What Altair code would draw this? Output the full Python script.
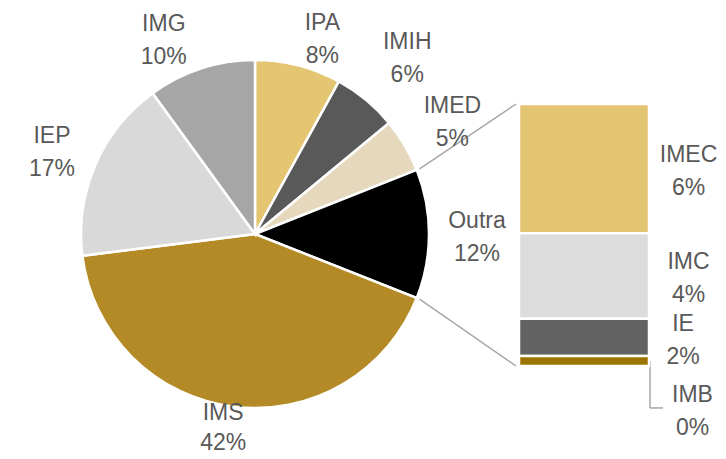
import math
import altair as alt
import pandas as pd

# ---- data ----
pie_names = ["IPA", "IMIH", "IMED", "Outra", "IMS", "IEP", "IMG"]
pie_values = [8, 6, 5, 12, 42, 17, 10]
pie_colors = ["#E4C572", "#595959", "#E5D8BD", "#000000", "#B48A27", "#D9D9D9", "#A6A6A6"]

bar_names = ["IMEC", "IMC", "IE", "IMB"]
bar_values = [5.9, 3.9, 1.7, 0.46]
bar_colors = ["#E4C572", "#DCDCDC", "#636363", "#9C7400"]

# ---- layout (pixels, plot area coords) ----
W, H = 710, 443
CX, CY, R = 247, 226, 174
BAR_X0, BAR_X1 = 511, 641
BAR_BOTTOM, BAR_TOP = 358, 96
TEXT_COLOR = "#595959"
LINE_COLOR = "#A6A6A6"
FONT = "Liberation Sans"
FS = 23
LH = 33
LH_TIGHT = 30
PIE_TEXT_DY = -15.5
BAR_TEXT_DY = -13.5
# label nudges: (angle offset in degrees, radius)
label_polar = {"IPA": (4.6, 207), "IMIH": (1.2, 233), "IMED": (1.0, 227), "Outra": (0.55, 222),
               "IMS": (2.1, 197), "IEP": (-1.4, 219), "IMG": (-7.1, 215)}
tight_labels = ["IMS"]
bar_label_x = {"IMEC": 680.5, "IMC": 680.5, "IE": 675, "IMB": 684.5}
IMB_LABEL_DY = 49
IMB_LEADER_DY = 47

# ---- pie ----
total = sum(pie_values)
rows = []
cum = 0
for i, (n, v) in enumerate(zip(pie_names, pie_values)):
    mid = (cum + v / 2) / total * 360
    da, rr = label_polar[n]
    a = math.radians(mid + da)
    rows.append(dict(name=n, value=v, order=i, label=f"{n}\n{v}%",
                     tight=n in tight_labels,
                     lx=CX + rr * math.sin(a), ly=CY - rr * math.cos(a),
                     start=cum / total * 2 * math.pi, end=(cum + v) / total * 2 * math.pi))
    cum += v
pie_df = pd.DataFrame(rows)

color_scale = alt.Scale(domain=pie_names + bar_names, range=pie_colors + bar_colors)

pie = alt.Chart(pie_df).mark_arc(radius=R, stroke="white", strokeWidth=2.5).encode(
    theta=alt.Theta("value:Q", stack=True),
    order=alt.Order("order:Q"),
    color=alt.Color("name:N", scale=color_scale, legend=None),
    x=alt.value(CX), y=alt.value(CY),
)

pie_text = alt.Chart(pie_df).transform_filter(~alt.datum.tight).mark_text(
    font=FONT, fontSize=FS, color=TEXT_COLOR, lineBreak="\n",
    lineHeight=LH, align="center", baseline="middle", dy=PIE_TEXT_DY).encode(
    x=alt.X("lx:Q", scale=None, axis=None), y=alt.Y("ly:Q", scale=None, axis=None), text="label:N")
pie_text_tight = alt.Chart(pie_df).transform_filter(alt.datum.tight).mark_text(
    font=FONT, fontSize=FS, color=TEXT_COLOR, lineBreak="\n",
    lineHeight=LH_TIGHT, align="center", baseline="middle", dy=PIE_TEXT_DY).encode(
    x=alt.X("lx:Q", scale=None, axis=None), y=alt.Y("ly:Q", scale=None, axis=None), text="label:N")

# ---- bar ----
btotal = sum(bar_values)
brows = []
top = btotal
for n, v in zip(bar_names, bar_values):
    brows.append(dict(name=n, y0=top, y1=top - v, mid=top - v / 2, label=f"{n}\n{round(v)}%",
                      lx=bar_label_x[n]))
    top -= v
bar_df = pd.DataFrame(brows)
yscale = alt.Scale(domain=[0, btotal], range=[BAR_BOTTOM, BAR_TOP])

bar = alt.Chart(bar_df).mark_bar(stroke="white", strokeWidth=2.5).encode(
    x=alt.value(BAR_X0), x2=alt.value(BAR_X1),
    y=alt.Y("y0:Q", scale=yscale, axis=None), y2="y1:Q",
    color=alt.Color("name:N", scale=color_scale, legend=None),
)
bar_text = alt.Chart(bar_df).transform_filter(alt.datum.name != "IMB").mark_text(
    font=FONT, fontSize=FS, color=TEXT_COLOR, lineBreak="\n", lineHeight=LH,
    align="center", baseline="middle", dy=BAR_TEXT_DY).encode(
    x=alt.X("lx:Q", scale=None, axis=None), y=alt.Y("mid:Q", scale=yscale, axis=None), text="label:N")
imb_text = alt.Chart(bar_df).transform_filter(alt.datum.name == "IMB").mark_text(
    font=FONT, fontSize=FS, color=TEXT_COLOR, lineBreak="\n", lineHeight=LH,
    align="center", baseline="middle", dy=IMB_LABEL_DY + BAR_TEXT_DY - 1).encode(
    x=alt.X("lx:Q", scale=None, axis=None), y=alt.Y("mid:Q", scale=yscale, axis=None), text="label:N")

# ---- connectors ----
o_start = pie_df.loc[pie_df.name == "Outra", "start"].iloc[0]
o_end = pie_df.loc[pie_df.name == "Outra", "end"].iloc[0]
conn_df = pd.DataFrame([
    dict(x=CX + (R + 3) * math.sin(o_start), y=CY - (R + 3) * math.cos(o_start), x2=BAR_X0 - 3, y2=BAR_TOP),
    dict(x=CX + (R + 3) * math.sin(o_end), y=CY - (R + 3) * math.cos(o_end), x2=BAR_X0 - 3, y2=BAR_BOTTOM),
])
conn = alt.Chart(conn_df).mark_rule(color=LINE_COLOR, strokeWidth=1.5).encode(
    x=alt.X("x:Q", scale=None, axis=None), y=alt.Y("y:Q", scale=None, axis=None),
    x2="x2:Q", y2="y2:Q")

imb_mid_px = BAR_BOTTOM + (BAR_TOP - BAR_BOTTOM) * bar_df.loc[bar_df.name == "IMB", "mid"].iloc[0] / btotal
leader_y = imb_mid_px + IMB_LEADER_DY
leader_df = pd.DataFrame([
    dict(x=BAR_X1 + 1, y=imb_mid_px, x2=BAR_X1 + 1, y2=leader_y),
    dict(x=BAR_X1 + 1, y=leader_y, x2=BAR_X1 + 14, y2=leader_y),
])
leader = alt.Chart(leader_df).mark_rule(color=LINE_COLOR, strokeWidth=1.5).encode(
    x=alt.X("x:Q", scale=None, axis=None), y=alt.Y("y:Q", scale=None, axis=None),
    x2="x2:Q", y2="y2:Q")

chart = alt.layer(pie, conn, leader, bar, pie_text, pie_text_tight, bar_text, imb_text).resolve_scale(
    x="independent", y="independent").properties(
    width=W, height=H, padding=0, autosize=alt.AutoSizeParams(type="none")
).configure_view(stroke=None)

chart.save("out.html", embed_options={"renderer": "svg", "actions": False})
